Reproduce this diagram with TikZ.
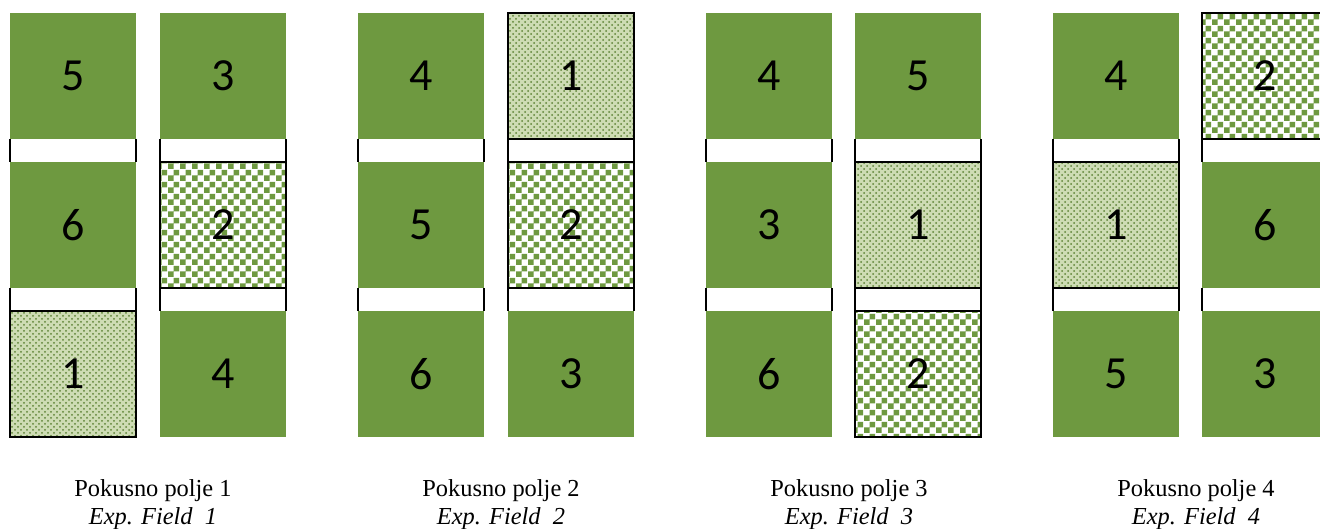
\documentclass[tikz,border=0pt]{standalone}
\usepackage{fontspec}
\setmainfont{Liberation Serif}
\newfontfamily\plotfont{Carlito}
\usetikzlibrary{patterns}

\definecolor{plotgreen}{RGB}{110,153,64}
\definecolor{plotpale}{RGB}{206,220,180}

% checkerboard, 3pt checks
\pgfdeclarepatternformonly{checker}{\pgfqpoint{0pt}{0pt}}{\pgfqpoint{6pt}{6pt}}{\pgfqpoint{6pt}{6pt}}{%
  \pgfpathrectangle{\pgfqpoint{0pt}{0pt}}{\pgfqpoint{3pt}{3pt}}%
  \pgfpathrectangle{\pgfqpoint{3pt}{3pt}}{\pgfqpoint{3pt}{3pt}}%
  \pgfusepath{fill}}

\tikzset{
  plotbox/.style={minimum size=63pt, inner sep=0pt, outer sep=0pt, font=\plotfont\fontsize{23}{23}\selectfont},
  plotsolid/.style={plotbox, fill=plotgreen},
  plotcheck/.style={plotbox, draw=black, line width=1pt, preaction={fill=white}, pattern=checker, pattern color=plotgreen},
  plotdots/.style={plotbox, draw=black, line width=1pt, preaction={fill=plotpale}, pattern=crosshatch dots, pattern color=plotgreen!85!black},
  gapline/.style={draw=black, line width=0.7pt},
  fieldlabel/.style={align=center, font=\fontsize{12.2}{13}\selectfont}
}

\begin{document}
\begin{tikzpicture}[x=0.5pt,y=-0.5pt]
\useasboundingbox (0,0) rectangle (1320,529);

% field 1
\node[plotsolid] (f1l1) at (73,76) {5};
\node[plotsolid] (f1l2) at (73,225) {6};
\node[plotdots] (f1l3) at (73,374) {1};
\node[plotsolid] (f1r1) at (223,76) {3};
\node[plotcheck] (f1r2) at (223,225) {2};
\node[plotsolid] (f1r3) at (223,374) {4};

% field 2
\node[plotsolid] (f2l1) at (421,76) {4};
\node[plotsolid] (f2l2) at (421,225) {5};
\node[plotsolid] (f2l3) at (421,374) {6};
\node[plotdots] (f2r1) at (571,76) {1};
\node[plotcheck] (f2r2) at (571,225) {2};
\node[plotsolid] (f2r3) at (571,374) {3};

% field 3
\node[plotsolid] (f3l1) at (769,76) {4};
\node[plotsolid] (f3l2) at (769,225) {3};
\node[plotsolid] (f3l3) at (769,374) {6};
\node[plotsolid] (f3r1) at (918,76) {5};
\node[plotdots] (f3r2) at (918,225) {1};
\node[plotcheck] (f3r3) at (918,374) {2};

% field 4
\node[plotsolid] (f4l1) at (1116,76) {4};
\node[plotdots] (f4l2) at (1116,225) {1};
\node[plotsolid] (f4l3) at (1116,374) {5};
\node[plotcheck] (f4r1) at (1265,76) {2};
\node[plotsolid] (f4r2) at (1265,225) {6};
\node[plotsolid] (f4r3) at (1265,374) {3};

% side lines between the plots
\foreach \f in {1,...,4}
  \foreach \c in {l,r}
    \foreach \r/\s in {1/2,2/3} {
      \draw[gapline] (f\f\c\r.south west) -- (f\f\c\s.north west);
      \draw[gapline] (f\f\c\r.south east) -- (f\f\c\s.north east);
    }

% labels
\foreach \f/\x in {1/153,2/501,3/849,4/1196}
  \node[fieldlabel] (lab\f) at (\x,505) {Pokusno polje \f\\[1pt] \textit{Exp. Field\ \ \f}};
\end{tikzpicture}
\end{document}
